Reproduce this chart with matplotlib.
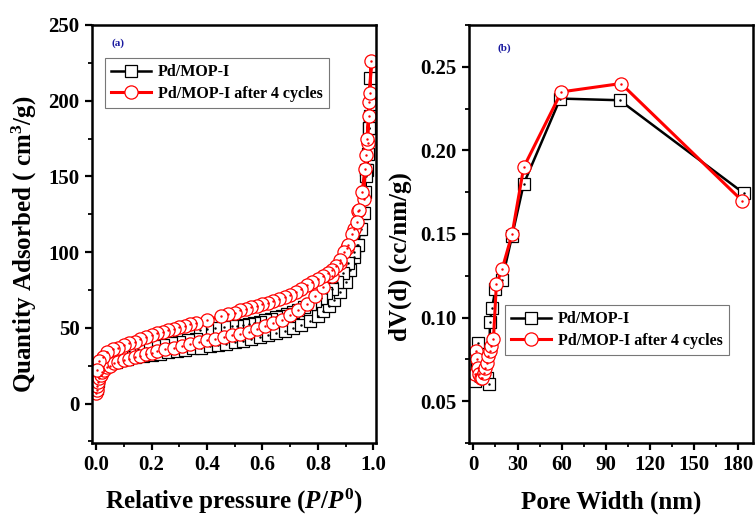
import matplotlib
matplotlib.use("Agg")
import matplotlib.pyplot as plt
from matplotlib.ticker import MultipleLocator

plt.rcParams['font.family'] = ['Liberation Serif', 'DejaVu Serif']
plt.rcParams['font.weight'] = 'bold'
plt.rcParams['mathtext.fontset'] = 'custom'
plt.rcParams['mathtext.rm'] = 'Liberation Serif:bold'
plt.rcParams['mathtext.it'] = 'Liberation Serif:italic:bold'
plt.rcParams['mathtext.bf'] = 'Liberation Serif:bold'

# ---------------- Panel (a): N2 isotherms ----------------
label_a = "Pd/MOP-I"
label_b = "Pd/MOP-I after 4 cycles"

# Pd/MOP-I adsorption branch
p_black_ads = [0.002, 0.005, 0.01, 0.02, 0.035, 0.05, 0.07, 0.09, 0.11, 0.14, 0.17, 0.20, 0.23, 0.26,
               0.29, 0.32, 0.35, 0.38, 0.41, 0.44, 0.47, 0.50, 0.53, 0.56, 0.59, 0.62, 0.65, 0.68,
               0.71, 0.74, 0.77, 0.80, 0.82, 0.84, 0.86, 0.88, 0.90, 0.915, 0.93, 0.94, 0.95, 0.96,
               0.97, 0.975, 0.98, 0.985, 0.99]
v_black_ads = [10, 15, 20, 23.5, 25.5, 26.5, 27.5, 28.5, 29.5, 30.5, 31.5, 32, 33, 34,
               35, 35.5, 36.5, 37, 38, 39, 39.5, 40.5, 41.5, 42.5, 44, 45, 46.5, 48,
               50, 52, 54.5, 58, 61, 64.5, 68.5, 74, 80, 88, 97, 105, 115, 126,
               140, 154, 165, 182, 215]
# Pd/MOP-I desorption branch
p_black_des = [0.988, 0.985, 0.978, 0.975, 0.965, 0.955, 0.945, 0.93, 0.91, 0.89, 0.87, 0.85, 0.83,
               0.81, 0.79, 0.77, 0.75, 0.73, 0.71, 0.69, 0.67, 0.65, 0.63, 0.61, 0.59, 0.57, 0.55,
               0.53, 0.51, 0.49, 0.46, 0.43, 0.40, 0.375, 0.36, 0.33, 0.30, 0.27, 0.24, 0.21, 0.18,
               0.15, 0.12, 0.09, 0.06, 0.04, 0.02, 0.008]
v_black_des = [190, 182, 154, 150, 126, 115, 105, 100, 93, 86, 80, 76, 73,
               70, 67.5, 65.5, 63.5, 62, 60.5, 59, 58, 57, 56, 55, 54, 53, 52.5,
               52, 51.5, 51, 50.5, 50, 49.5, 48.5, 43, 42, 41, 40, 39, 38, 37,
               36, 34.5, 33, 31, 29.5, 27.5, 25]

# after 4 cycles adsorption branch
p_red_ads = [0.001, 0.002, 0.004, 0.007, 0.011, 0.016, 0.022, 0.03, 0.04, 0.05, 0.065, 0.08, 0.10,
             0.12, 0.14, 0.16, 0.18, 0.20, 0.22, 0.25, 0.28, 0.31, 0.34, 0.37, 0.40, 0.43, 0.46,
             0.49, 0.52, 0.55, 0.58, 0.61, 0.64, 0.67, 0.70, 0.73, 0.76, 0.79, 0.82, 0.85, 0.88,
             0.904, 0.932, 0.946, 0.965, 0.975, 0.98, 0.985, 0.993]
v_red_ads = [7, 9, 11.5, 14, 17, 19, 21, 22.5, 24, 25, 26.5, 27.5, 28.5,
             29.5, 30.5, 31.5, 32.5, 33.5, 34.5, 36, 37, 38, 39.5, 40.5, 42, 43, 44,
             45, 46, 47.5, 49, 51, 53, 55.5, 58.5, 62, 66, 71, 77, 84, 93,
             103, 115, 127, 135, 164, 172, 199, 226]
# after 4 cycles desorption branch
p_red_des = [0.988, 0.983, 0.978, 0.97, 0.96, 0.95, 0.94, 0.925, 0.91, 0.895, 0.88, 0.865, 0.85,
             0.835, 0.82, 0.80, 0.78, 0.76, 0.74, 0.72, 0.70, 0.68, 0.66, 0.64, 0.62, 0.60, 0.58,
             0.56, 0.54, 0.52, 0.50, 0.475, 0.45, 0.40, 0.36, 0.34, 0.32, 0.30, 0.28, 0.26, 0.24,
             0.22, 0.20, 0.18, 0.16, 0.14, 0.12, 0.10, 0.08, 0.06, 0.04, 0.025, 0.012, 0.004]
v_red_des = [205, 190, 175, 155, 140, 128, 120, 112, 105, 100, 95, 91, 88,
             86, 84, 82, 80, 78, 76, 74, 72, 70.5, 69, 67.5, 66.5, 65.5, 64.5,
             63.5, 62.5, 61.5, 60, 59, 58, 55, 53, 52.5, 51.5, 50.5, 49.5, 48.5, 47.5,
             46.5, 45, 44, 43, 41, 40, 38.5, 37, 36, 34, 31, 28, 22]

# ---------------- Panel (b): pore size distribution ----------------
w_black = [1.0, 2.2, 3.4, 5.0, 7.0, 9.0, 10.8, 11.2, 12.7, 15.0, 19.5, 26.3, 34.2, 59.0, 99.4, 183.6]
dv_black = [0.062, 0.072, 0.085, 0.078, 0.070, 0.064, 0.060, 0.0975, 0.106, 0.117, 0.1225, 0.149,
            0.180, 0.231, 0.230, 0.1745]
w_red = [0.8, 1.6, 2.4, 3.2, 4.0, 5.0, 6.0, 7.0, 8.0, 9.0, 10.0, 11.0, 12.0, 13.6, 15.6, 19.5,
         26.3, 34.2, 59.8, 100.3, 182.5]
dv_red = [0.066, 0.080, 0.075, 0.070, 0.066, 0.064, 0.064, 0.067, 0.070, 0.073, 0.077, 0.080,
          0.083, 0.087, 0.120, 0.129, 0.150, 0.190, 0.235, 0.240, 0.170]

fig = plt.figure(figsize=(7.55, 5.15), dpi=100)
ax1 = fig.add_axes([92/755, 72/515, 284/755, 418/515])
ax2 = fig.add_axes([469/755, 72/515, 284/755, 418/515])

sq = dict(marker='s', markersize=8.5, markerfacecolor='white', markeredgecolor='black',
          markeredgewidth=0.9, color='black', linewidth=1.8)
ci = dict(marker='o', markersize=9.5, markerfacecolor='white', markeredgecolor='red',
          markeredgewidth=0.9, color='red', linewidth=2.2)

# panel a
pb = p_black_ads + p_black_des
vb = v_black_ads + v_black_des
pr = p_red_ads + p_red_des
vr = v_red_ads + v_red_des
ax1.plot(pb, vb, label=label_a, **sq)
ax1.plot(pb, vb, linestyle='none', marker='.', markersize=1.5, color='black')
ax1.plot(pr, vr, label=label_b, **ci)
ax1.plot(pr, vr, linestyle='none', marker='.', markersize=1.5, color='red')

# panel b
ax2.plot(w_black, dv_black, label=label_a, **sq)
ax2.plot(w_black, dv_black, linestyle='none', marker='.', markersize=1.5, color='black')
ax2.plot(w_red, dv_red, label=label_b, **ci)
ax2.plot(w_red, dv_red, linestyle='none', marker='.', markersize=1.5, color='red')

ax1.set_xlim(-0.015, 1.01)
ax1.set_ylim(-26, 250)
ax1.xaxis.set_major_locator(MultipleLocator(0.2))
ax1.xaxis.set_minor_locator(MultipleLocator(0.1))
ax1.yaxis.set_major_locator(MultipleLocator(50))
ax1.yaxis.set_minor_locator(MultipleLocator(25))
ax1.xaxis.set_major_formatter(plt.FuncFormatter(lambda v, p: f"{v:.1f}"))

ax2.set_xlim(-3, 190)
ax2.set_ylim(0.025, 0.275)
ax2.xaxis.set_major_locator(MultipleLocator(30))
ax2.xaxis.set_minor_locator(MultipleLocator(15))
ax2.yaxis.set_major_locator(MultipleLocator(0.05))
ax2.yaxis.set_minor_locator(MultipleLocator(0.025))
ax2.yaxis.set_major_formatter(plt.FuncFormatter(lambda v, p: f"{v:.2f}"))

for ax in (ax1, ax2):
    for s in ax.spines.values():
        s.set_linewidth(1.8)
    ax.tick_params(which='major', direction='out', length=5, width=1.6, labelsize=15, pad=4)
    ax.tick_params(which='minor', direction='out', length=3, width=1.3)
    for lab in ax.get_xticklabels() + ax.get_yticklabels():
        lab.set_fontweight('bold')

ax1.set_xlabel(r"Relative pressure $(P/P^{0})$", fontsize=18, fontweight='bold')
ax1.set_ylabel(r"Quantity Adsorbed ( cm$^{3}$/g)", fontsize=18, fontweight='bold')
ax2.set_xlabel("Pore Width (nm)", fontsize=18, fontweight='bold')
ax2.set_ylabel("dV(d) (cc/nm/g)", fontsize=18, fontweight='bold')
# label positions (axes fraction)
ax1.xaxis.set_label_coords(0.5, -0.106)
ax2.xaxis.set_label_coords(0.5, -0.115)
ax1.yaxis.set_label_coords(-0.185, 0.475)
ax2.yaxis.set_label_coords(-0.20, 0.445)

ax1.text(0.07, 0.957, "(a)", transform=ax1.transAxes, color='#1a1aa0', fontsize=8,
         fontweight='bold', va='center')
ax2.text(0.10, 0.945, "(b)", transform=ax2.transAxes, color='#1a1aa0', fontsize=8,
         fontweight='bold', va='center')

leg_kw = dict(prop={'weight': 'bold', 'size': 11.5}, frameon=True, fancybox=False,
              edgecolor='#555555', handlelength=2.5, borderpad=0.4, labelspacing=0.35,
              handletextpad=0.4, borderaxespad=0.0)
l1 = ax1.legend(loc='upper left', bbox_to_anchor=(0.046, 0.921), **leg_kw)
l2 = ax2.legend(loc='upper left', bbox_to_anchor=(0.127, 0.330), **leg_kw)
for l in (l1, l2):
    l.get_frame().set_linewidth(0.8)

fig.savefig("out.png", dpi=100)
